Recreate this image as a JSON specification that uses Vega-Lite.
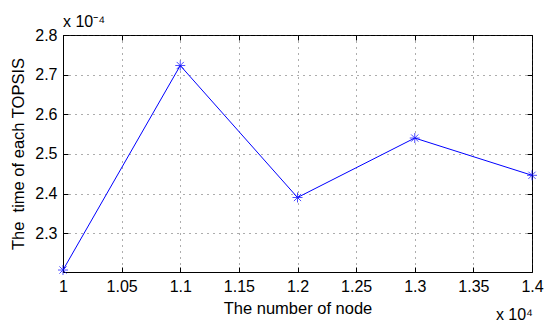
{
  "$schema": "https://vega.github.io/schema/vega-lite/v6.json",
  "width": 469,
  "height": 237,
  "autosize": "none",
  "padding": {"left": 63, "top": 35, "right": 12, "bottom": 52},
  "background": "white",
  "config": {
    "font": "Liberation Sans",
    "view": {"stroke": "black", "strokeWidth": 1},
    "axis": {
      "labelFont": "Liberation Sans",
      "labelFontSize": 16,
      "labelColor": "black",
      "titleFont": "Liberation Sans",
      "titleFontSize": 16.5,
      "titleFontWeight": "normal",
      "titleColor": "black",
      "domainColor": "black",
      "tickColor": "black",
      "gridColor": "#333",
      "gridDash": [1, 5],
      "gridOpacity": 0.8
    }
  },
  "data": {
    "values": [
      {"nodes": 10000, "time": 0.0002207},
      {"nodes": 11000, "time": 0.0002723},
      {"nodes": 12000, "time": 0.0002390},
      {"nodes": 13000, "time": 0.0002540},
      {"nodes": 14000, "time": 0.0002446}
    ]
  },
  "resolve": {"axis": {"x": "independent", "y": "independent"}},
  "layer": [
    {
      "mark": {"type": "line", "color": "#0000ff", "strokeWidth": 1},
      "encoding": {
        "x": {
          "field": "nodes", "type": "quantitative",
          "scale": {"domain": [10000, 14000], "nice": false, "zero": false},
          "axis": {
            "values": [10000, 10500, 11000, 11500, 12000, 12500, 13000, 13500, 14000],
            "labelExpr": "format(datum.value/10000, '~g')",
            "title": "The number of node",
            "titlePadding": 6,
            "tickSize": -5,
            "labelPadding": 11,
            "grid": true,
            "labelFlush": false
          }
        },
        "y": {
          "field": "time", "type": "quantitative",
          "scale": {"domain": [0.0002202, 0.00028], "nice": false, "zero": false},
          "axis": {
            "values": [0.00023, 0.00024, 0.00025, 0.00026, 0.00027, 0.00028],
            "labelExpr": "format(datum.value*10000, '.1f')",
            "title": "The \u00a0time of each TOPSIS",
            "titlePadding": 8,
            "tickSize": -5,
            "labelPadding": 11,
            "grid": true,
            "labelFlush": false
          }
        }
      }
    },
    {
      "mark": {
        "type": "point",
        "shape": "M-1,0L1,0M0,-1L0,1M-0.72,-0.72L0.72,0.72M-0.72,0.72L0.72,-0.72",
        "filled": false,
        "stroke": "#0000ff",
        "strokeWidth": 1,
        "size": 100
      },
      "encoding": {
        "x": {"field": "nodes", "type": "quantitative", "scale": {"domain": [10000, 14000], "nice": false, "zero": false},
          "axis": {"orient": "top", "values": [10000, 10500, 11000, 11500, 12000, 12500, 13000, 13500, 14000], "labels": false, "title": null, "tickSize": -5, "grid": false, "domain": false}},
        "y": {"field": "time", "type": "quantitative", "scale": {"domain": [0.0002202, 0.00028], "nice": false, "zero": false},
          "axis": {"orient": "right", "values": [0.00023, 0.00024, 0.00025, 0.00026, 0.00027, 0.00028], "labels": false, "title": null, "tickSize": -5, "grid": false, "domain": false}}
      }
    },
    {
      "data": {"values": [{"label": "x 10⁻⁴"}]},
      "mark": {"type": "text", "align": "left", "baseline": "alphabetic", "fontSize": 16, "font": "Liberation Sans", "color": "black", "dy": -8},
      "encoding": {
        "x": {"datum": 10000, "type": "quantitative", "axis": null},
        "y": {"datum": 0.00028, "type": "quantitative", "axis": null},
        "text": {"field": "label"}
      }
    },
    {
      "data": {"values": [{"label": "x 10⁴"}]},
      "mark": {"type": "text", "align": "right", "baseline": "alphabetic", "fontSize": 16, "font": "Liberation Sans", "color": "black", "dy": 48, "dx": 1},
      "encoding": {
        "x": {"datum": 14000, "type": "quantitative", "axis": null},
        "y": {"datum": 0.0002202, "type": "quantitative", "axis": null},
        "text": {"field": "label"}
      }
    }
  ]
}
